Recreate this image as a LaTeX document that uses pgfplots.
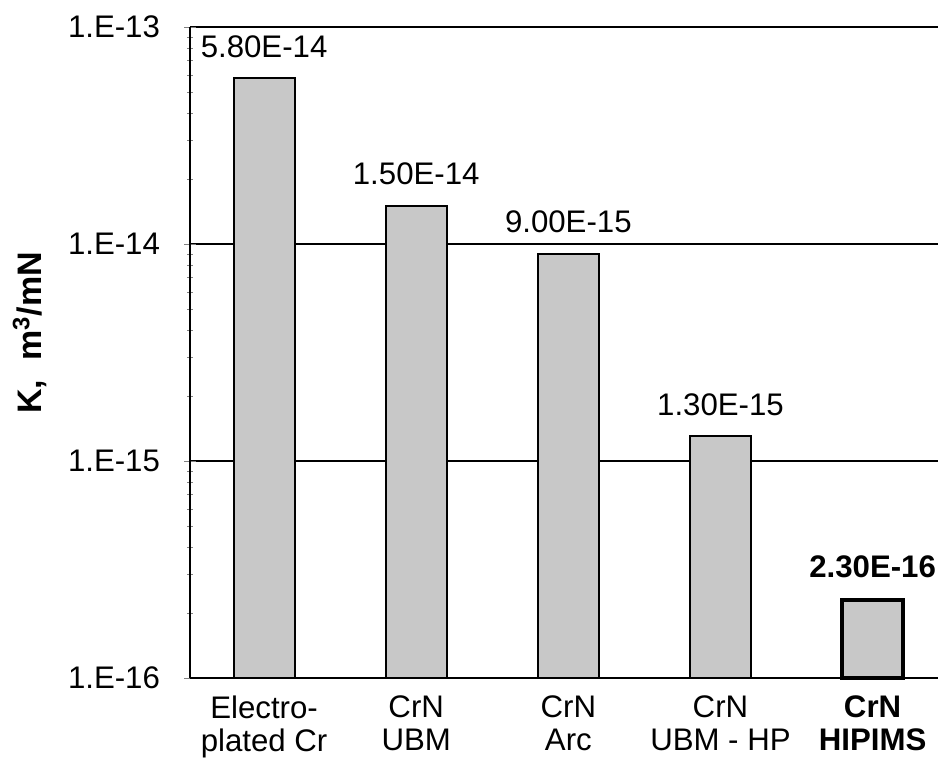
\documentclass[border=0pt]{standalone}
\usepackage{pgfplots}
\pgfplotsset{compat=1.18}
\usepackage{fontspec}
\setmainfont{Liberation Sans}

\definecolor{barfill}{RGB}{200,200,200}

\begin{document}
\begin{tikzpicture}
  \begin{axis}[
    scale only axis,
    width=374pt, height=325.5pt,
    ymode=log, log origin=infty,
    ymin=1e-16, ymax=1e-13,
    xmin=-0.487, xmax=4.43,
    axis x line=bottom,
    axis y line=left,
    axis line style={line width=1pt, -},
    ytick={1e-16,1e-15,1e-14,1e-13},
    yticklabels={1.E-16,1.E-15,1.E-14,1.E-13},
    yticklabel style={xshift=-8.5pt},
    ymajorgrids,
    major grid style={black, line width=0.6pt},
    major tick length=6pt,
    minor tick length=3pt,
    xtick={0,1,2,3,4},
    xtick style={draw=none},
    xticklabels={{Electro-\\plated Cr},{CrN\\UBM},{CrN\\Arc},{CrN\\UBM - HP},{\textbf{CrN}\\\textbf{HIPIMS}}},
    xticklabel style={align=center, yshift=0.5pt},
    tick label style={font=\fontsize{15.6}{16.5}\selectfont},
    ylabel={\textbf{K,~~m\textsuperscript{3}/mN}},
    every axis y label/.style={at={(axis description cs:-0.214,0.53)}, rotate=90, anchor=center, font=\fontsize{17}{18}\selectfont},
    ybar, bar width=30.5pt,
    nodes near coords,
    point meta=explicit symbolic,
    nodes near coords style={font=\fontsize{15.6}{18}\selectfont, anchor=south, inner sep=0pt, yshift=10pt},
    clip=false,
  ]
  \addplot[bar shift=0pt, fill=barfill, draw=black, line width=1pt]
    table[meta=lab] {
      x y lab
      0 5.80e-14 5.80E-14
      1 1.50e-14 1.50E-14
      2 9.00e-15 9.00E-15
      3 1.30e-15 1.30E-15
    };
  \addplot[bar shift=0pt, fill=barfill, draw=black, line width=2pt,
    nodes near coords style={font=\fontsize{15.6}{18}\selectfont\bfseries}]
    table[meta=lab] {
      x y lab
      4 2.30e-16 2.30E-16
    };
  \end{axis}
  \pgfresetboundingbox
  \path[use as bounding box] ([shift={(-95pt,-39.5pt)}]current axis.south west) rectangle ([shift={(0pt,13.5pt)}]current axis.north east);
\end{tikzpicture}
\end{document}
